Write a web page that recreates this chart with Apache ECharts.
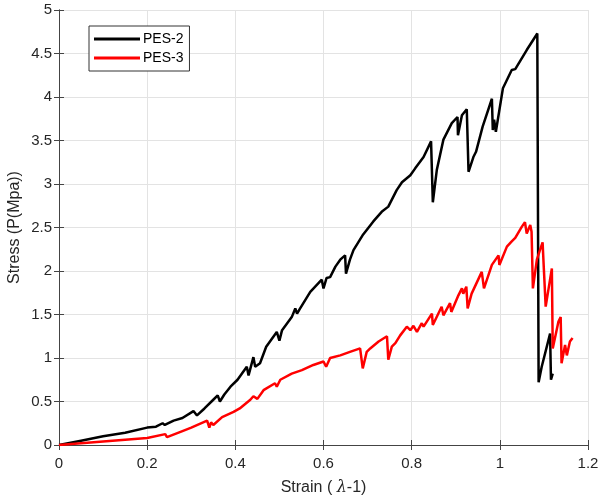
<!DOCTYPE html>
<html>
<head>
<meta charset="utf-8">
<script src="https://cdn.jsdelivr.net/npm/echarts@6/dist/echarts.min.js"></script>
<style>html,body{margin:0;padding:0;background:#fff;}#c{width:599px;height:496px;}</style>
</head>
<body>
<div id="c"></div>
<script>
const xTicks = ['0','0.2','0.4','0.6','0.8','1','1.2'];
const yTicks = ['0','0.5','1','1.5','2','2.5','3','3.5','4','4.5','5'];
const seriesNames = ['PES-2','PES-3'];

const xPES2 = [0,0.05,0.1,0.15,0.2,0.22,0.235,0.24,0.26,0.28,0.305,0.313,0.33,0.35,0.36,0.365,0.375,0.389,0.405,0.426,0.43,0.441,0.445,0.456,0.47,0.494,0.5,0.506,0.528,0.536,0.54,0.547,0.57,0.596,0.6,0.607,0.615,0.627,0.638,0.649,0.651,0.66,0.668,0.69,0.713,0.732,0.747,0.766,0.778,0.797,0.808,0.827,0.844,0.848,0.857,0.872,0.891,0.904,0.905,0.914,0.925,0.929,0.94,0.946,0.961,0.982,0.984,0.987,0.991,1.007,1.027,1.035,1.061,1.085,1.088,1.095,1.114,1.116,1.12];
const yPES2 = [0,0.05,0.1,0.14,0.2,0.21,0.25,0.23,0.28,0.31,0.39,0.34,0.42,0.52,0.57,0.5,0.58,0.67,0.75,0.9,0.8,1.01,0.9,0.94,1.13,1.3,1.2,1.32,1.47,1.57,1.51,1.57,1.76,1.9,1.8,1.92,1.93,2.05,2.13,2.18,1.97,2.13,2.24,2.42,2.57,2.68,2.74,2.93,3.02,3.1,3.18,3.31,3.49,2.79,3.16,3.51,3.7,3.77,3.56,3.79,3.86,3.14,3.31,3.37,3.66,3.98,3.62,3.74,3.6,4.1,4.31,4.32,4.54,4.73,0.72,0.9,1.28,0.75,0.82];

const xPES3 = [0,0.1,0.2,0.241,0.245,0.28,0.3,0.336,0.341,0.345,0.35,0.37,0.396,0.41,0.434,0.441,0.45,0.464,0.49,0.494,0.502,0.528,0.551,0.577,0.6,0.606,0.615,0.638,0.66,0.683,0.689,0.698,0.706,0.725,0.744,0.747,0.755,0.763,0.774,0.789,0.797,0.804,0.812,0.823,0.827,0.846,0.848,0.868,0.872,0.887,0.89,0.906,0.914,0.917,0.924,0.927,0.936,0.959,0.964,0.982,0.997,0.999,1.016,1.027,1.035,1.05,1.057,1.061,1.069,1.072,1.075,1.084,1.091,1.097,1.1,1.104,1.118,1.12,1.133,1.138,1.14,1.148,1.152,1.159,1.165];
const yPES3 = [0,0.04,0.08,0.125,0.09,0.16,0.2,0.28,0.2,0.26,0.23,0.32,0.38,0.42,0.52,0.56,0.53,0.63,0.71,0.67,0.75,0.82,0.86,0.92,0.96,0.9,1.0,1.03,1.07,1.11,0.88,1.07,1.11,1.19,1.25,0.98,1.13,1.17,1.26,1.36,1.32,1.37,1.3,1.4,1.36,1.51,1.38,1.59,1.49,1.63,1.53,1.72,1.8,1.74,1.82,1.57,1.74,1.99,1.8,2.07,2.18,2.07,2.28,2.34,2.38,2.51,2.56,2.43,2.53,2.45,1.8,2.13,2.24,2.33,2.01,1.59,2.03,1.11,1.42,1.47,0.94,1.15,1.03,1.19,1.23];

const pairs = (xs, ys) => xs.map((x, i) => [x, ys[i]]);

const axisCol = '#444';
const gridCol = '#e3e3e3';
const font = 'Liberation Sans, Arial, Helvetica, sans-serif';

const chart = echarts.init(document.getElementById('c'));
chart.setOption({
  animation: false,
  backgroundColor: '#fff',
  grid: { left: 59, right: 11, top: 10, bottom: 51, containLabel: false, outerBoundsMode: 'none' },
  legend: {
    orient: 'vertical',
    left: 89, top: 26,
    padding: [6, 6, 6, 5],
    itemGap: 5,
    itemWidth: 46, itemHeight: 3,
    icon: 'rect',
    borderColor: '#333', borderWidth: 1,
    backgroundColor: '#fff',
    textStyle: { fontFamily: font, fontSize: 14, color: '#000', padding: [0,0,0,-2] },
    data: seriesNames
  },
  xAxis: [{
    type: 'value', min: 0, max: 1.2, interval: 0.2,
    name: 'Strain ( {i|λ}-1)', nameLocation: 'middle', nameGap: 35,
    nameTextStyle: { fontFamily: font, fontSize: 16, color: '#262626',
      rich: { i: { fontFamily: 'DejaVu Serif, serif', fontStyle: 'italic', fontSize: 16, color: '#262626' } } },
    axisLine: { show: true, lineStyle: { color: axisCol, width: 1 } },
    axisTick: { show: true, inside: true, length: 5, lineStyle: { color: axisCol } },
    axisLabel: { fontFamily: font, fontSize: 15, color: '#262626', margin: 11,
      formatter: (v) => xTicks[Math.round(v / 0.2)] },
    splitLine: { show: true, lineStyle: { color: gridCol, width: 1 } }
  }, {
    type: 'value', min: 0, max: 1.2, interval: 0.2, position: 'top',
    axisLine: { show: true, lineStyle: { color: axisCol, width: 1 } },
    axisTick: { show: true, inside: true, length: 5, lineStyle: { color: axisCol } },
    axisLabel: { show: false }, splitLine: { show: false }
  }],
  yAxis: [{
    type: 'value', min: 0, max: 5, interval: 0.5,
    name: 'Stress (P(Mpa))', nameLocation: 'middle', nameGap: 36, nameRotate: 90,
    nameMoveOverlap: false,
    nameTextStyle: { fontFamily: font, fontSize: 16, color: '#262626' },
    axisLine: { show: true, lineStyle: { color: axisCol, width: 1 } },
    axisTick: { show: true, inside: true, length: 5, lineStyle: { color: axisCol } },
    axisLabel: { fontFamily: font, fontSize: 15, color: '#262626', margin: 7,
      formatter: (v) => yTicks[Math.round(v / 0.5)] },
    splitLine: { show: true, lineStyle: { color: gridCol, width: 1 } }
  }, {
    type: 'value', min: 0, max: 5, interval: 0.5, position: 'right',
    axisLine: { show: true, lineStyle: { color: axisCol, width: 1 } },
    axisTick: { show: true, inside: true, length: 5, lineStyle: { color: axisCol } },
    axisLabel: { show: false }, splitLine: { show: false }
  }],
  series: [{
    name: seriesNames[0], type: 'line', showSymbol: false, symbol: 'none',
    data: pairs(xPES2, yPES2),
    lineStyle: { color: '#000', width: 2.5 }, itemStyle: { color: '#000' }
  }, {
    name: seriesNames[1], type: 'line', showSymbol: false, symbol: 'none',
    data: pairs(xPES3, yPES3),
    lineStyle: { color: '#ff0000', width: 2.5 }, itemStyle: { color: '#ff0000' }
  }]
});
</script>
</body>
</html>
